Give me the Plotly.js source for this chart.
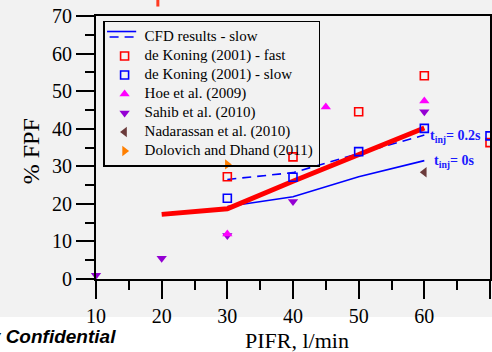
<!DOCTYPE html>
<html>
<head>
<meta charset="utf-8">
<script src="https://cdn.plot.ly/plotly-3.0.1.min.js"></script>
<style>html,body{margin:0;padding:0;background:#fff;}#chart{width:492px;height:352px;}</style>
</head>
<body>
<div id="chart"></div>
<script>
// ---- data ----
var cfdX = [30, 40, 50, 60];
var cfdSlowInj02 = [26.5, 28.3, 33.4, 38.3];
var cfdSlowInj0 = [19.3, 21.9, 27.2, 31.5];
var redX = [20, 30, 40, 50, 60];
var redY = [17.2, 18.7, 26.0, 33.0, 40.2];
var koningFastX = [30, 40, 50, 60, 70];
var koningFastY = [27.2, 32.5, 44.5, 54.1, 36.3];
var koningSlowX = [30, 40, 50, 60, 70];
var koningSlowY = [21.5, 27.1, 33.9, 40.1, 38.1];
var hoeX = [30, 45, 60];
var hoeY = [12.0, 45.8, 47.4];
var sahibX = [10, 20, 30, 40, 60];
var sahibY = [1.0, 5.5, 11.6, 20.6, 44.5];
var nadX = [60];
var nadY = [28.4];
var dolX = [30];
var dolY = [30.5];
var xTicks = [10, 20, 30, 40, 50, 60, 70];
var yTicks = [0, 10, 20, 30, 40, 50, 60, 70];
var seriesNames = ['CFD results - slow', 'de Koning (2001) - fast', 'de Koning (2001) - slow',
  'Hoe et al. (2009)', 'Sahib et al. (2010)', 'Nadarassan et al. (2010)', 'Dolovich and Dhand (2011)'];

var serif = 'Liberation Serif, Times New Roman, serif';
function lg(s){ return '<span style="font-size:15px;font-family:Liberation Serif, serif">' + s + '</span>'; }

var traces = [
  {x: cfdX, y: cfdSlowInj0, mode: 'lines', line: {color: '#0000ff', width: 1.6}, showlegend: false},
  {x: cfdX, y: cfdSlowInj02, mode: 'lines', name: lg(seriesNames[0]), legendrank: 1,
   line: {color: '#0000ff', width: 1.6, dash: '9px,6px'}},
  {x: redX, y: redY, mode: 'lines', line: {color: '#ff0000', width: 5}, showlegend: false},
  {x: koningFastX, y: koningFastY, mode: 'markers', name: lg(seriesNames[1]), legendrank: 2,
   marker: {symbol: 'square-open', size: 8, color: '#ff0000', line: {width: 1.6, color: '#ff0000'}}},
  {x: koningSlowX, y: koningSlowY, mode: 'markers', name: lg(seriesNames[2]), legendrank: 3,
   marker: {symbol: 'square-open', size: 8, color: '#0000ff', line: {width: 1.6, color: '#0000ff'}}},
  {x: sahibX, y: sahibY, mode: 'markers', name: lg(seriesNames[4]), legendrank: 5,
   marker: {symbol: 'triangle-down', size: 9, color: '#9400d3'}},
  {x: hoeX, y: hoeY, mode: 'markers', name: lg(seriesNames[3]), legendrank: 4,
   marker: {symbol: 'triangle-up', size: 9, color: '#ff00ff'}},
  {x: nadX, y: nadY, mode: 'markers', name: lg(seriesNames[5]), legendrank: 6,
   marker: {symbol: 'triangle-left', size: 9, color: '#6b3b3b'}},
  {x: dolX, y: dolY, mode: 'markers', name: lg(seriesNames[6]), legendrank: 7,
   marker: {symbol: 'triangle-right', size: 9, color: '#ff7f00'}}
];
traces.forEach(function(t){ t.cliponaxis = false; t.type = 'scatter'; });

var layout = {
  width: 492, height: 352,
  margin: {l: 96, r: 2, t: 16, b: 73},
  font: {family: serif, color: '#000'},
  paper_bgcolor: '#ffffff',
  plot_bgcolor: '#f2f2f2',
  showlegend: true,
  legend: {
    x: 0.018, y: 0.981, xanchor: 'left', yanchor: 'top',
    bgcolor: 'rgba(0,0,0,0)', bordercolor: '#000', borderwidth: 1.5,
    font: {family: serif, size: 11, color: '#000'},
    itemwidth: 30, tracegroupgap: 0, traceorder: 'normal'
  },
  xaxis: {
    range: [10, 70], tickvals: xTicks, ticktext: xTicks.map(String),
    ticks: 'outside', ticklen: 18, tickwidth: 2, tickcolor: '#000',
    showline: true, linewidth: 2, linecolor: '#000', mirror: true,
    showgrid: false, zeroline: false,
    minor: {dtick: 5, tick0: 10, ticks: 'outside', ticklen: 9, tickwidth: 2, tickcolor: '#000', showgrid: false},
    tickfont: {family: serif, size: 20, color: '#000'}
  },
  yaxis: {
    range: [0, 70], tickvals: yTicks, ticktext: yTicks.map(String),
    ticks: 'outside', ticklen: 18, tickwidth: 2, tickcolor: '#000',
    showline: true, linewidth: 2, linecolor: '#000', mirror: true,
    showgrid: false, zeroline: false,
    minor: {dtick: 5, tick0: 0, ticks: 'outside', ticklen: 9, tickwidth: 2, tickcolor: '#000', showgrid: false},
    tickfont: {family: serif, size: 20, color: '#000'}
  },
  shapes: [
    // grey photo background
    {type: 'rect', xref: 'paper', yref: 'paper', x0: -0.25, x1: 1.01, y0: -0.1445, y1: 1.07,
     fillcolor: '#f2f2f2', line: {width: 0}, layer: 'below'},
    // solid part of the combined legend symbol
    {type: 'line', xref: 'paper', yref: 'paper', x0: 0.028, x1: 0.102, y0: 0.941, y1: 0.941,
     line: {color: '#0000ff', width: 1.6}, layer: 'above'},
    // cropped orange mark at the top
    {type: 'line', xref: 'paper', yref: 'paper', x0: 0.157, x1: 0.157, y0: 1.036, y1: 1.07,
     line: {color: '#ff3b22', width: 3}, layer: 'above'}
  ],
  annotations: [
    {text: 'PIFR, l/min', xref: 'paper', yref: 'paper', x: 0.51, y: -0.232, xanchor: 'center', yanchor: 'middle',
     showarrow: false, font: {family: serif, size: 22, color: '#000'}},
    {text: '% FPF', xref: 'paper', yref: 'paper', x: -0.163, y: 0.485, xanchor: 'center', yanchor: 'middle',
     textangle: -90, showarrow: false, font: {family: serif, size: 24, color: '#000'}},
    {text: 't<sub>inj</sub>= 0.2s', xref: 'x', yref: 'y', x: 60.6, y: 37.8, xanchor: 'left', yanchor: 'middle',
     showarrow: false, font: {family: serif, size: 14, color: '#1a1aff', weight: 'bold'}},
    {text: 't<sub>inj</sub>= 0s', xref: 'x', yref: 'y', x: 61.2, y: 31.4, xanchor: 'left', yanchor: 'middle',
     showarrow: false, font: {family: serif, size: 14, color: '#1a1aff', weight: 'bold'}},
    {text: '<b><i>Proprietary Confidential</i></b>', xref: 'paper', yref: 'paper', x: 0.056, y: -0.22,
     xanchor: 'right', yanchor: 'middle', showarrow: false,
     font: {family: 'Liberation Sans, Arial, sans-serif', size: 19, color: '#000'}}
  ]
};

Plotly.newPlot('chart', traces, layout, {displayModeBar: false, staticPlot: true});
</script>
</body>
</html>
